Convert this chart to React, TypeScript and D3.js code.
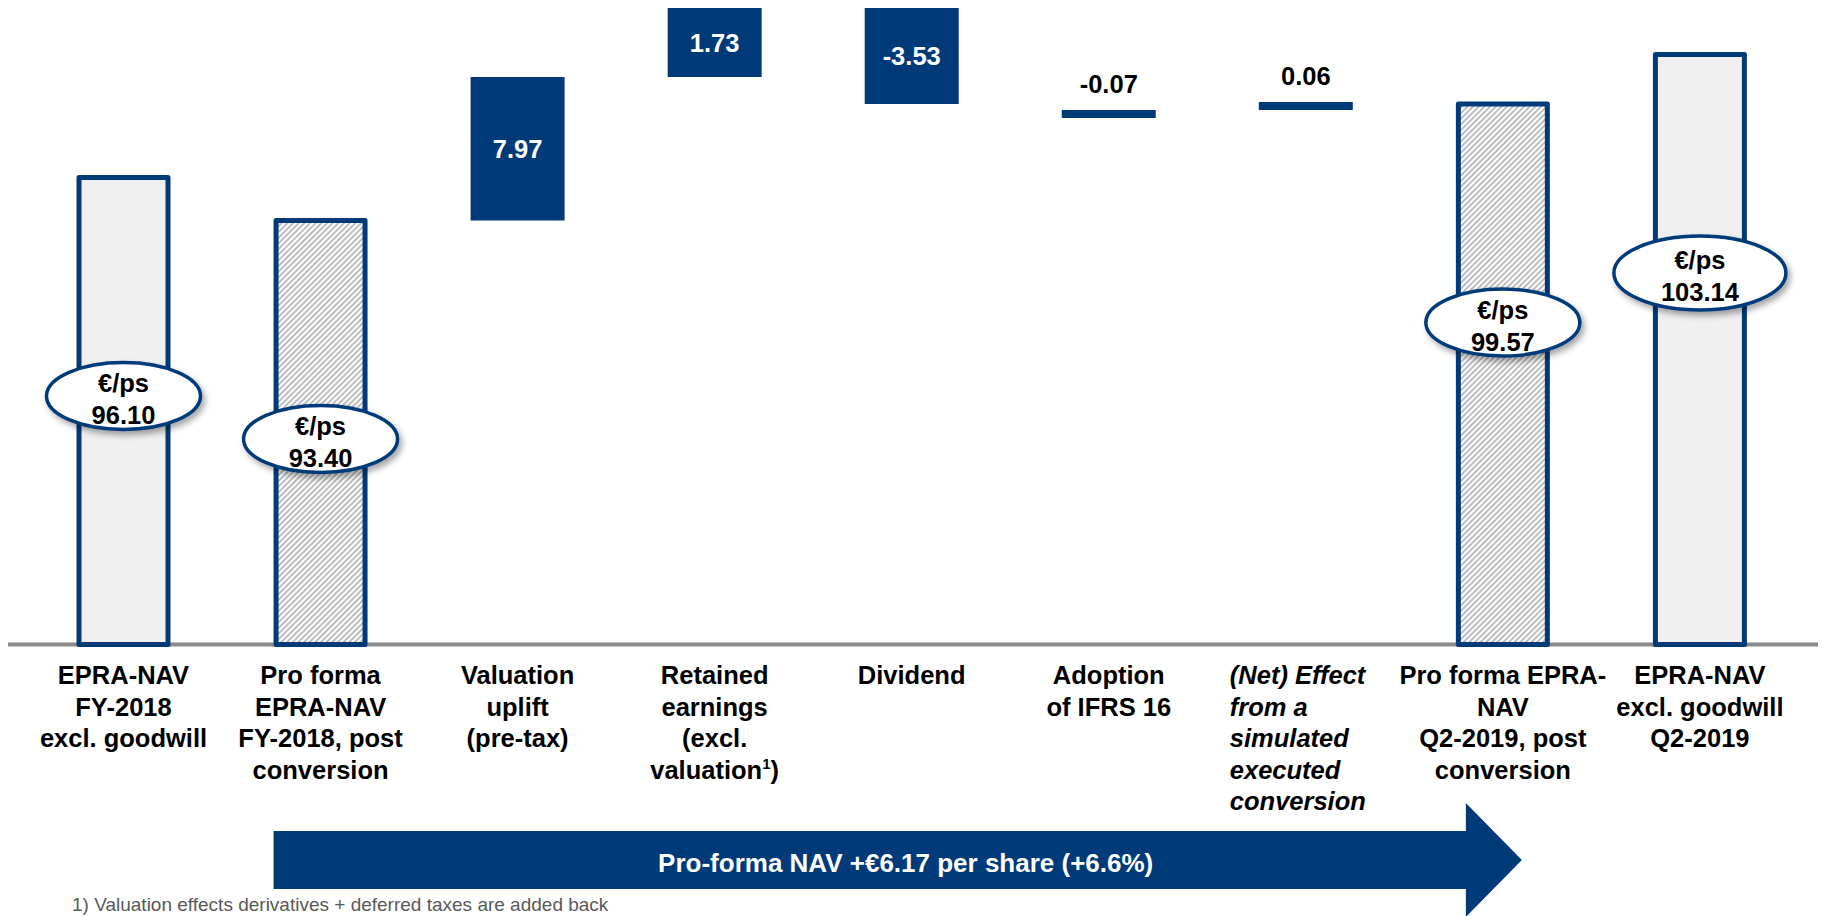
import React from 'react';
import * as d3 from 'd3';

// ---------- data ----------
const categories: string[] = [
  'EPRA-NAV FY-2018 excl. goodwill',
  'Pro forma EPRA-NAV FY-2018, post conversion',
  'Valuation uplift (pre-tax)',
  'Retained earnings (excl. valuation)',
  'Dividend',
  'Adoption of IFRS 16',
  '(Net) Effect from a simulated executed conversion',
  'Pro forma EPRA-NAV Q2-2019, post conversion',
  'EPRA-NAV excl. goodwill Q2-2019',
];

const categoryLines: string[][] = [
  ['EPRA-NAV', 'FY-2018', 'excl. goodwill'],
  ['Pro forma', 'EPRA-NAV', 'FY-2018, post', 'conversion'],
  ['Valuation', 'uplift', '(pre-tax)'],
  ['Retained', 'earnings', '(excl.', 'valuation¹)'],
  ['Dividend'],
  ['Adoption', 'of IFRS 16'],
  ['(Net) Effect', 'from a', 'simulated', 'executed', 'conversion'],
  ['Pro forma EPRA-', 'NAV', 'Q2-2019, post', 'conversion'],
  ['EPRA-NAV', 'excl. goodwill', 'Q2-2019'],
];

// nav = reported EPRA-NAV, pro = pro-forma total, step = waterfall change
const kinds: string[] = ['nav', 'pro', 'step', 'step', 'step', 'step', 'step', 'pro', 'nav'];
const values: number[] = [96.10, 93.40, 7.97, 1.73, -3.53, -0.07, 0.06, 99.57, 103.14];
const valueLabels: string[] = ['96.10', '93.40', '7.97', '1.73', '-3.53', '-0.07', '0.06', '99.57', '103.14'];

// break points of the (not-to-scale) pro-forma value axis
const proLevels: number[] = [93.40, 99.50, 99.57, 101.37, 103.10];
const navLevels: number[] = [96.10, 103.14];

const arrowText = 'Pro-forma NAV +€6.17 per share (+6.6%)';
const footnote = '1) Valuation effects derivatives + deferred taxes are added back';
const unitLabel = '€/ps';

const NAVY = '#003A79';
const FONT = '"Liberation Sans", Arial, Helvetica, sans-serif';

export default function App() {
  const W = 1825;
  const H = 916;
  const baseY = 644.5;

  const x = d3
    .scaleBand<string>()
    .domain(categories)
    .range([76.5, 1746.9])
    .paddingInner(0.523)
    .paddingOuter(0);
  const bw = x.bandwidth();

  const navY = d3.scaleLinear().domain(navLevels).range([177.5, 54.5]);
  const proY = d3.scaleLinear().domain(proLevels).range([220.5, 110, 104, 77, 8]);

  let running = 0;
  const items = categories.map((c, i) => {
    const k = kinds[i];
    const v = values[i];
    const x0 = x(c) as number;
    const cx = x0 + bw / 2;
    if (k === 'nav' || k === 'pro') {
      if (k === 'pro') running = v;
      const yTop = k === 'nav' ? navY(v) : proY(v);
      return { c, i, k, v, x0, cx, yTop, h: 0, small: false };
    }
    const start = running;
    const end = running + v;
    running = end;
    const y0 = proY(start);
    const y1 = proY(end);
    let top = Math.min(y0, y1);
    let h = Math.abs(y1 - y0);
    const small = h < 8;
    if (small) {
      h = 8;
      top = v < 0 ? y1 : y0 - 8;
    }
    return { c, i, k, v, x0, cx, yTop: top, h, small };
  });

  const firstPro = items[1];
  const lastPro = items[7];
  const arrowStart = firstPro.x0;
  const headBase = lastPro.x0 + 10;
  const tip = headBase + 56;
  const aMid = 860;
  const arrowPath = d3.path();
  arrowPath.moveTo(arrowStart, aMid - 29);
  arrowPath.lineTo(headBase, aMid - 29);
  arrowPath.lineTo(headBase, aMid - 57);
  arrowPath.lineTo(tip, aMid);
  arrowPath.lineTo(headBase, aMid + 57);
  arrowPath.lineTo(headBase, aMid + 29);
  arrowPath.lineTo(arrowStart, aMid + 29);
  arrowPath.closePath();

  const renderLine = (line: string) => {
    if (line.includes('¹')) {
      const [a, b] = line.split('¹');
      return (
        <>
          {a}
          <tspan fontSize={15} dy={-10}>1</tspan>
          <tspan dy={10}>{b}</tspan>
        </>
      );
    }
    return line;
  };

  const LABEL_FS = 25.5;

  return (
    <div style={{ position: 'absolute', left: 0, top: 0 }}>
      <svg width={W} height={H} style={{ display: 'block', background: '#fff' }} fontFamily={FONT}>
        <defs>
          <pattern id="hatch" width={4} height={4} patternUnits="userSpaceOnUse" patternTransform="rotate(45)">
            <rect width={4} height={4} fill="#ffffff" />
            <rect width={2} height={4} fill="#bdbdbd" />
          </pattern>
          <filter id="shadow" x="-20%" y="-30%" width="150%" height="170%">
            <feDropShadow dx={3} dy={4} stdDeviation={3} floodColor="#000" floodOpacity={0.35} />
          </filter>
        </defs>

        {/* baseline */}
        <line x1={8} x2={1818} y1={baseY} y2={baseY} stroke="#8a8a8a" strokeWidth={4} />

        {/* bars */}
        {items.map((d) => {
          if (d.k === 'nav' || d.k === 'pro') {
            return (
              <rect
                key={d.c}
                x={d.x0 + 2.5}
                y={d.yTop}
                width={bw - 5}
                height={baseY - d.yTop}
                fill={d.k === 'nav' ? '#f0f0f0' : 'url(#hatch)'}
                stroke={NAVY}
                strokeWidth={5}
                strokeLinejoin="round"
              />
            );
          }
          return <rect key={d.c} x={d.x0} y={d.yTop} width={bw} height={d.h} fill={NAVY} />;
        })}

        {/* step labels */}
        {items
          .filter((d) => d.k === 'step')
          .map((d) => (
            <text
              key={'l' + d.c}
              x={d.cx}
              y={d.small ? d.yTop - 17 : d.yTop + d.h / 2 + 9}
              textAnchor="middle"
              fontSize={25.5}
              fontWeight="bold"
              fill={d.small ? '#000' : '#fff'}
            >
              {valueLabels[d.i]}
            </text>
          ))}

        {/* ellipse labels */}
        {items
          .filter((d) => d.k === 'nav' || d.k === 'pro')
          .map((d) => {
            const cy = d.yTop - 2.5 + 221;
            const wide = valueLabels[d.i].length > 5;
            const rx = wide ? 86 : 77;
            const ry = wide ? 37 : 33.5;
            return (
              <g key={'e' + d.c}>
                <ellipse cx={d.cx} cy={cy} rx={rx} ry={ry} fill="#fff" stroke={NAVY} strokeWidth={3.5} filter="url(#shadow)" />
                <text x={d.cx} y={cy - 4} textAnchor="middle" fontSize={25.5} fontWeight="bold" fill="#000">
                  {unitLabel}
                </text>
                <text x={d.cx} y={cy + 28} textAnchor="middle" fontSize={25.5} fontWeight="bold" fill="#000">
                  {valueLabels[d.i]}
                </text>
              </g>
            );
          })}

        {/* category labels */}
        {items.map((d) => {
          const italic = d.i === 6;
          const lx = italic ? d.cx - 76 : d.cx;
          return (
            <text
              key={'c' + d.c}
              x={lx}
              y={684}
              textAnchor={italic ? 'start' : 'middle'}
              fontSize={LABEL_FS}
              fontWeight="bold"
              fontStyle={italic ? 'italic' : 'normal'}
              fill="#000"
            >
              {categoryLines[d.i].map((ln, j) => (
                <tspan key={j} x={lx} y={684 + j * 31.6}>
                  {renderLine(ln)}
                </tspan>
              ))}
            </text>
          );
        })}

        {/* arrow */}
        <path d={arrowPath.toString()} fill={NAVY} />
        <text x={(arrowStart + tip) / 2 + 8} y={872} textAnchor="middle" fontSize={26} fontWeight="bold" fill="#fff">
          {arrowText}
        </text>

        {/* footnote */}
        <text x={72} y={911} fontSize={19} fill="#595959">
          {footnote}
        </text>
      </svg>
    </div>
  );
}
